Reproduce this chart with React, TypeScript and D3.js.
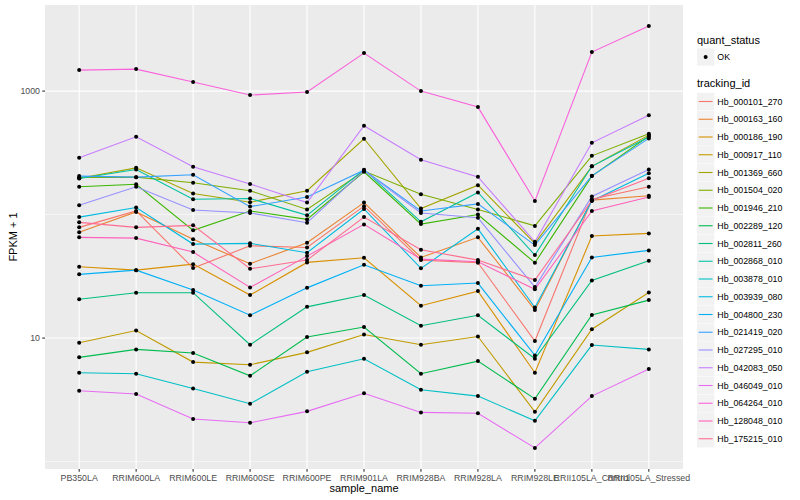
import React, { useEffect, useRef } from 'react';
import * as d3 from 'd3';

const samples = [
  'PB350LA', 'RRIM600LA', 'RRIM600LE', 'RRIM600SE', 'RRIM600PE', 'RRIM901LA',
  'RRIM928BA', 'RRIM928LA', 'RRIM928LE', 'RRII105LA_Control', 'RRII105LA_Stressed',
];

const trackingIds = [
  'Hb_000101_270', 'Hb_000163_160', 'Hb_000186_190', 'Hb_000917_110', 'Hb_001369_660',
  'Hb_001504_020', 'Hb_001946_210', 'Hb_002289_120', 'Hb_002811_260', 'Hb_002868_010',
  'Hb_003878_010', 'Hb_003939_080', 'Hb_004800_230', 'Hb_021419_020', 'Hb_027295_010',
  'Hb_042083_050', 'Hb_046049_010', 'Hb_064264_010', 'Hb_128048_010', 'Hb_175215_010',
];

// FPKM + 1, one value per sample
const hb000101 = [78.8, 107, 36.9, 55.9, 54.2, 117, 42.8, 40.7, 9.46, 133, 168];
const hb000163 = [71.8, 105, 63, 40, 59.1, 125, 45, 65.4, 16.9, 131, 142];
const hb000186 = [37.8, 35.5, 39.7, 22.3, 41, 44.7, 18.3, 24, 5.24, 67, 70.4];
const hb000917 = [9.16, 11.5, 6.39, 6.08, 7.66, 10.7, 8.83, 10.3, 2.53, 11.8, 23.4];
const hb001369 = [197, 239, 148, 126, 156, 411, 112, 173, 58.5, 246, 440];
const hb001504 = [200, 201, 181, 156, 110, 225, 146, 110, 81, 299, 451];
const hb001946 = [168, 176, 74.5, 107, 91.4, 222, 83.8, 100, 40.7, 205, 432];
const hb002289 = [6.98, 8.1, 7.56, 4.95, 10.2, 12.3, 5.14, 6.51, 3.22, 15.4, 20.3];
const hb002811 = [20.6, 23.3, 23.3, 8.83, 17.9, 22.3, 12.6, 15.3, 6.8, 29.3, 42.3];
const hb002868 = [196, 232, 133, 135, 98.6, 231, 87.4, 151, 47, 246, 424];
const hb003878 = [5.24, 5.14, 3.91, 2.94, 5.34, 6.8, 3.81, 3.39, 2.14, 8.78, 8.1];
const hb003939 = [95.4, 114, 57.7, 58.5, 49.1, 111, 36.7, 76.7, 17.7, 129, 216];
const hb004800 = [32.8, 35.5, 24.5, 15.3, 25.5, 39.2, 26.5, 27.9, 7.24, 45, 51.3];
const hb021419 = [205, 201, 210, 116, 139, 229, 107, 122, 56.6, 206, 414];
const hb027295 = [119, 168, 109, 103, 85.9, 227, 103, 94.2, 25.9, 140, 232];
const hb042083 = [288, 427, 244, 177, 125, 524, 278, 202, 60.2, 381, 636];
const hb046049 = [3.74, 3.52, 2.21, 2.06, 2.55, 3.57, 2.5, 2.46, 1.29, 3.39, 5.61];
const hb064264 = [1479, 1507, 1183, 929, 982, 2031, 1000, 742, 129, 2069, 3360];
const hb128048 = [65.4, 64.5, 49.7, 25.7, 46.1, 83.3, 43.6, 41.5, 24.8, 107, 139];
const hb175215 = [86.5, 78.8, 81.8, 36.4, 42.8, 95.4, 51.9, 42.8, 29.5, 130, 197];

const seriesValues = [
  hb000101, hb000163, hb000186, hb000917, hb001369, hb001504, hb001946, hb002289,
  hb002811, hb002868, hb003878, hb003939, hb004800, hb021419, hb027295, hb042083,
  hb046049, hb064264, hb128048, hb175215,
];

const quantStatus = ['OK'];
const yBreaks = [10, 1000];
const yMinorBreaks = [1, 100];

// ggplot2 hue palette for 20 levels
const palette = [
  '#F8766D', '#EA8331', '#D89000', '#C09B00', '#A3A500', '#7CAE00', '#39B600', '#00BB4E',
  '#00BF7D', '#00C1A3', '#00BFC4', '#00BAE0', '#00B0F6', '#35A2FF', '#9590FF', '#C77CFF',
  '#E76BF3', '#FA62DB', '#FF62BC', '#FF6C91',
];

const App: React.FC = () => {
  const svgRef = useRef<SVGSVGElement>(null);

  useEffect(() => {
    if (!svgRef.current) return;
    const svg = d3.select(svgRef.current);
    svg.selectAll('*').remove();

    const panel = { left: 45, right: 683, top: 5, bottom: 469 };

    const x = d3.scalePoint<string>()
      .domain(samples)
      .range([panel.left, panel.right])
      .padding(0.6);

    // log scale with ggplot's 5% expansion
    const all = seriesValues.flat();
    const lo = Math.log10(d3.min(all) as number);
    const hi = Math.log10(d3.max(all) as number);
    const pad = (hi - lo) * 0.05;
    const y = d3.scaleLog()
      .domain([10 ** (lo - pad), 10 ** (hi + pad)])
      .range([panel.bottom, panel.top]);

    svg.append('rect')
      .attr('width', 800).attr('height', 500).attr('fill', '#fff');

    svg.append('rect')
      .attr('x', panel.left).attr('y', panel.top)
      .attr('width', panel.right - panel.left).attr('height', panel.bottom - panel.top)
      .attr('fill', '#EBEBEB');

    const grid = svg.append('g');
    grid.selectAll('.minor')
      .data(yMinorBreaks)
      .join('line')
      .attr('x1', panel.left).attr('x2', panel.right)
      .attr('y1', d => y(d)).attr('y2', d => y(d))
      .attr('stroke', '#fff').attr('stroke-width', 0.55);
    grid.selectAll('.major')
      .data(yBreaks)
      .join('line')
      .attr('x1', panel.left).attr('x2', panel.right)
      .attr('y1', d => y(d)).attr('y2', d => y(d))
      .attr('stroke', '#fff').attr('stroke-width', 1.1);
    grid.selectAll('.vx')
      .data(samples)
      .join('line')
      .attr('x1', d => x(d)!).attr('x2', d => x(d)!)
      .attr('y1', panel.top).attr('y2', panel.bottom)
      .attr('stroke', '#fff').attr('stroke-width', 1.1);

    const line = d3.line<number>()
      .x((_, i) => x(samples[i])!)
      .y(d => y(d));

    seriesValues.forEach((vals, i) => {
      svg.append('path')
        .datum(vals)
        .attr('fill', 'none')
        .attr('stroke', palette[i])
        .attr('stroke-width', 1.1)
        .attr('d', line);
    });

    seriesValues.forEach(vals => {
      svg.append('g')
        .selectAll('circle')
        .data(vals)
        .join('circle')
        .attr('cx', (_, j) => x(samples[j])!)
        .attr('cy', d => y(d))
        .attr('r', 2)
        .attr('fill', '#000');
    });

    // axes
    const axisText = '#4D4D4D';
    const ticks = svg.append('g');
    ticks.selectAll('.xt')
      .data(samples)
      .join('line')
      .attr('x1', d => x(d)!).attr('x2', d => x(d)!)
      .attr('y1', panel.bottom).attr('y2', panel.bottom + 2.75)
      .attr('stroke', '#333').attr('stroke-width', 1.1);
    ticks.selectAll('.xl')
      .data(samples)
      .join('text')
      .attr('x', d => x(d)!)
      .attr('y', panel.bottom + 11.5)
      .attr('text-anchor', 'middle')
      .attr('font-size', 8.8)
      .attr('fill', axisText)
      .text(d => d);
    ticks.selectAll('.yt')
      .data(yBreaks)
      .join('line')
      .attr('x1', panel.left - 2.75).attr('x2', panel.left)
      .attr('y1', d => y(d)).attr('y2', d => y(d))
      .attr('stroke', '#333').attr('stroke-width', 1.1);
    ticks.selectAll('.yl')
      .data(yBreaks)
      .join('text')
      .attr('x', panel.left - 5)
      .attr('y', d => y(d) + 3.2)
      .attr('text-anchor', 'end')
      .attr('font-size', 8.8)
      .attr('fill', axisText)
      .text(d => d3.format('d')(d));

    svg.append('text')
      .attr('x', (panel.left + panel.right) / 2)
      .attr('y', 492)
      .attr('text-anchor', 'middle')
      .attr('font-size', 11)
      .text('sample_name');
    svg.append('text')
      .attr('transform', `translate(17,${(panel.top + panel.bottom) / 2}) rotate(-90)`)
      .attr('text-anchor', 'middle')
      .attr('font-size', 11)
      .text('FPKM + 1');

    // legends
    const lg = svg.append('g');
    const keyX = 697;
    const keySize = 17.3;
    lg.append('text').attr('x', keyX).attr('y', 43.5).attr('font-size', 11).text('quant_status');
    quantStatus.forEach((s, i) => {
      const cy = 57 + i * 17.75;
      lg.append('rect').attr('x', keyX).attr('y', cy - keySize / 2)
        .attr('width', keySize).attr('height', keySize).attr('fill', '#F2F2F2');
      lg.append('circle').attr('cx', keyX + keySize / 2).attr('cy', cy).attr('r', 2).attr('fill', '#000');
      lg.append('text').attr('x', keyX + keySize + 3).attr('y', cy + 3.1)
        .attr('font-size', 8.8).text(s);
    });

    lg.append('text').attr('x', keyX).attr('y', 87).attr('font-size', 11).text('tracking_id');
    trackingIds.forEach((id, i) => {
      const cy = 101.5 + i * 17.75;
      lg.append('rect').attr('x', keyX).attr('y', cy - keySize / 2)
        .attr('width', keySize).attr('height', keySize).attr('fill', '#F2F2F2');
      lg.append('line')
        .attr('x1', keyX + 1.7).attr('x2', keyX + keySize - 1.7)
        .attr('y1', cy).attr('y2', cy)
        .attr('stroke', palette[i]).attr('stroke-width', 1.1);
      lg.append('text').attr('x', keyX + keySize + 3).attr('y', cy + 3.1)
        .attr('font-size', 8.8).text(id);
    });
  }, []);

  return (
    <svg
      ref={svgRef}
      width={800}
      height={500}
      style={{ position: 'absolute', left: 0, top: 0, fontFamily: '"Liberation Sans", Arial, sans-serif' }}
    />
  );
};

export default App;
